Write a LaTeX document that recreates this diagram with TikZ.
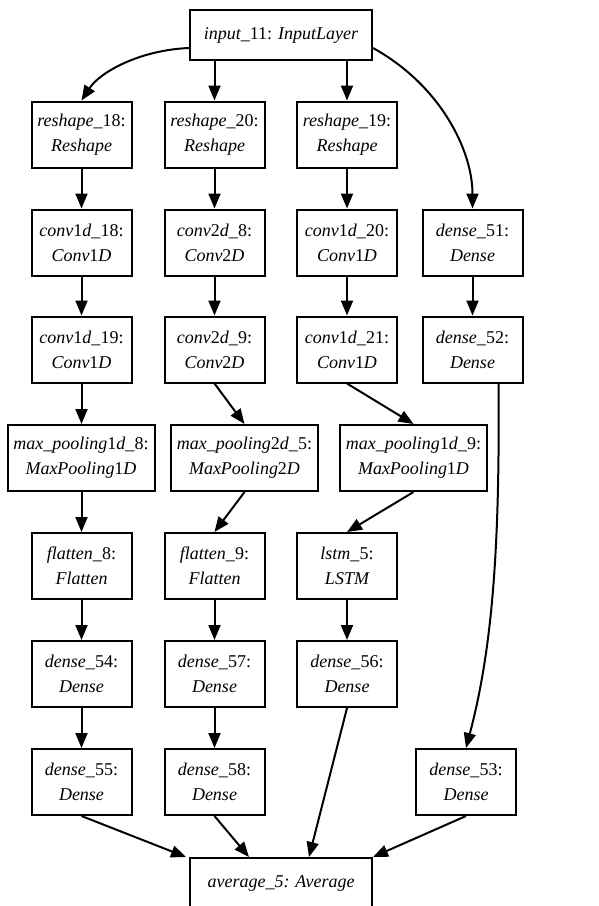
\documentclass[tikz,border=0pt]{standalone}
\usepackage{fontspec}
\setmainfont{Liberation Serif}
\usetikzlibrary{arrows.meta,calc}
\newcommand{\ud}[1]{\textup{#1}}
\begin{document}
\begin{tikzpicture}[x=1pt,y=-1pt,
  layer/.style={draw, line width=2pt, rectangle, inner sep=0pt, align=center,
    font=\fontsize{18}{25}\selectfont\itshape, minimum width=100pt, minimum height=66pt},
  wide/.style={layer, minimum width=147pt},
  single/.style={layer, minimum width=182pt, minimum height=50pt},
  edge/.style={line width=2pt, -{Triangle[length=15pt,width=12pt]}}]
\useasboundingbox (0,0) rectangle (598,906);
% row 1
\node[single] (in) at (281,35) {input\_\ud{11:} InputLayer};
% row 2
\node[layer] (r18) at (81.5,134.5) {reshape\_\ud{18:}\\Reshape};
\node[layer] (r20) at (214.5,134.5) {reshape\_\ud{20:}\\Reshape};
\node[layer] (r19) at (347,134.5) {reshape\_\ud{19:}\\Reshape};
% row 3
\node[layer] (c18) at (81.5,242.5) {conv\ud{1}d\_\ud{18:}\\Conv\ud{1}D};
\node[layer] (c8) at (214.5,242.5) {conv\ud{2}d\_\ud{8:}\\Conv\ud{2}D};
\node[layer] (c20) at (347,242.5) {conv\ud{1}d\_\ud{20:}\\Conv\ud{1}D};
\node[layer] (d51) at (472.5,242.5) {dense\_\ud{51:}\\Dense};
% row 4
\node[layer] (c19) at (81.5,349.5) {conv\ud{1}d\_\ud{19:}\\Conv\ud{1}D};
\node[layer] (c9) at (214.5,349.5) {conv\ud{2}d\_\ud{9:}\\Conv\ud{2}D};
\node[layer] (c21) at (347,349.5) {conv\ud{1}d\_\ud{21:}\\Conv\ud{1}D};
\node[layer] (d52) at (472.5,349.5) {dense\_\ud{52:}\\Dense};
% row 5
\node[wide] (mp8) at (81,458) {max\_pooling\ud{1}d\_\ud{8:}\\MaxPooling\ud{1}D};
\node[wide] (mp5) at (244.5,458) {max\_pooling\ud{2}d\_\ud{5:}\\MaxPooling\ud{2}D};
\node[wide] (mp9) at (413.5,458) {max\_pooling\ud{1}d\_\ud{9:}\\MaxPooling\ud{1}D};
% row 6
\node[layer] (f8) at (81.5,566) {flatten\_\ud{8:}\\Flatten};
\node[layer] (f9) at (214.5,566) {flatten\_\ud{9:}\\Flatten};
\node[layer] (ls) at (347,566) {lstm\_\ud{5:}\\LSTM};
% row 7
\node[layer] (d54) at (81.5,674) {dense\_\ud{54:}\\Dense};
\node[layer] (d57) at (214.5,674) {dense\_\ud{57:}\\Dense};
\node[layer] (d56) at (347,674) {dense\_\ud{56:}\\Dense};
% row 8
\node[layer] (d55) at (81.5,782) {dense\_\ud{55:}\\Dense};
\node[layer] (d58) at (214.5,782) {dense\_\ud{58:}\\Dense};
\node[layer] (d53) at (466,782) {dense\_\ud{53:}\\Dense};
% output
\node[single] (avg) at (281,883) {average\_5: Average};
% edges
\draw[edge] ([yshift=-13pt]in.west) .. controls (140,50) and (100,72) .. (r18.north);
\draw[edge] (r20|-in.south) -- (r20.north);
\draw[edge] (r19|-in.south) -- (r19.north);
\draw[edge] ([yshift=-13pt]in.east) .. controls (440,85) and (472.5,150) .. (d51.north);
\draw[edge] (r18) -- (c18);
\draw[edge] (r20) -- (c8);
\draw[edge] (r19) -- (c20);
\draw[edge] (c18) -- (c19);
\draw[edge] (c8) -- (c9);
\draw[edge] (c20) -- (c21);
\draw[edge] (d51) -- (d52);
\draw[edge] (c19.south) -- (c19.south|-mp8.north);
\draw[edge] (c9.south) -- (mp5.north);
\draw[edge] (c21.south) -- (mp9.north);
\draw[edge] (mp8.south-|f8) -- (f8.north);
\draw[edge] (mp5.south) -- (f9.north);
\draw[edge] (mp9.south) -- (ls.north);
\draw[edge] (f8) -- (d54);
\draw[edge] (f9) -- (d57);
\draw[edge] (ls) -- (d56);
\draw[edge] (d54) -- (d55);
\draw[edge] (d57) -- (d58);
\draw[edge] ([xshift=26pt]d52.south) .. controls (500,550) and (492,650) .. (d53.north);
\draw[edge] (d55.south) -- ([xshift=-3pt]avg.north west);
\draw[edge] (d58.south) -- ([xshift=60pt]avg.north west);
\draw[edge] (d56.south) -- ([xshift=120pt]avg.north west);
\draw[edge] (d53.south) -- (avg.north east);
\end{tikzpicture}
\end{document}
